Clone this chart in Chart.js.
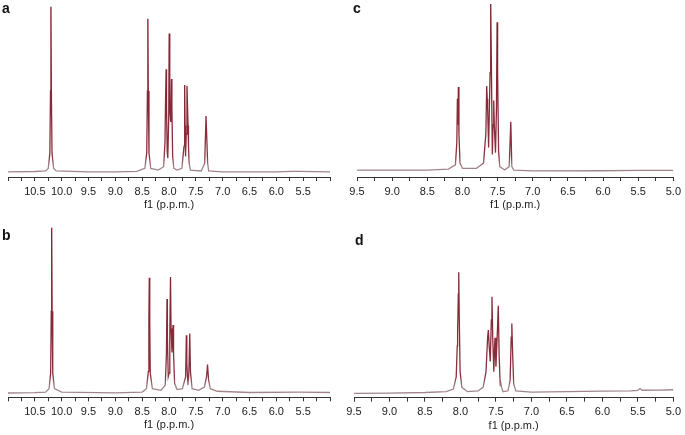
<!DOCTYPE html>
<html>
<head>
<meta charset="utf-8">
<script src="https://cdn.jsdelivr.net/npm/chart.js@4.4.1/dist/chart.umd.min.js"></script>
<style>
  body { margin: 0; background: #fff; }
  #wrap { position: relative; width: 685px; height: 435px; }
  canvas { position: absolute; }
  .lbl { position: absolute; font: bold 14px "Liberation Sans", Arial, sans-serif; line-height: 14px; color: #111; }
</style>
</head>
<body>
<div id="wrap">
  <canvas id="ca" width="340" height="215" style="left:0;top:0"></canvas>
  <canvas id="cc" width="345" height="215" style="left:340px;top:0"></canvas>
  <canvas id="cb" width="340" height="220" style="left:0;top:215px"></canvas>
  <canvas id="cd" width="345" height="220" style="left:340px;top:215px"></canvas>
  <div class="lbl" style="left:2px;top:1px">a</div>
  <div class="lbl" style="left:353px;top:1px">c</div>
  <div class="lbl" style="left:2px;top:228px">b</div>
  <div class="lbl" style="left:355px;top:233px">d</div>
</div>
<script>
// chemical shifts (ppm) and intensities
var shiftA = [11.0, 10.5, 10.3, 10.25, 10.22, 10.208, 10.2, 10.192, 10.18, 10.15, 10.1, 9.5, 9.0, 8.6, 8.45, 8.415, 8.402, 8.394, 8.386, 8.373, 8.34, 8.2, 8.1, 8.075, 8.062, 8.053, 8.046, 8.033, 8.022, 8.005, 7.996, 7.99, 7.982, 7.968, 7.953, 7.946, 7.932, 7.91, 7.85, 7.76, 7.72, 7.708, 7.7, 7.692, 7.678, 7.665, 7.645, 7.637, 7.625, 7.6, 7.4, 7.335, 7.31, 7.298, 7.28, 7.26, 7.0, 6.0, 5.7, 5.55, 5.0];
var intA   = [3, 3.2, 3.5, 5, 14, 50, 99, 50, 14, 5, 3.5, 3, 3, 3.3, 5, 14, 50, 92, 50, 14, 5, 4, 6, 20, 49, 62.6, 40, 14, 11, 35, 83.5, 60, 40, 32, 57, 40, 12, 5, 4, 5, 18, 53.5, 30, 12, 25, 53, 30, 18, 8, 4, 3.5, 8, 35.5, 35.5, 8, 3.5, 3, 3, 3.3, 3.3, 3];

var shiftB = [11.0, 10.5, 10.3, 10.235, 10.205, 10.194, 10.186, 10.178, 10.166, 10.135, 10.0, 9.0, 8.5, 8.42, 8.385, 8.375, 8.367, 8.359, 8.349, 8.31, 8.15, 8.07, 8.048, 8.037, 8.03, 8.014, 8.0, 7.985, 7.972, 7.962, 7.945, 7.925, 7.915, 7.895, 7.85, 7.75, 7.69, 7.677, 7.668, 7.647, 7.63, 7.613, 7.6, 7.57, 7.45, 7.34, 7.3, 7.282, 7.262, 7.23, 7.1, 6.5, 5.6, 5.0];
var intB   = [2.5, 2.7, 3, 5, 14, 50, 98.4, 50, 14, 5, 3, 2.6, 3, 5, 15, 45, 69.4, 45, 14, 5, 4, 7, 25, 57, 35, 12, 14, 35, 69.8, 40, 26, 41.9, 25, 8, 4.5, 5, 12, 36, 20, 7, 14, 37, 15, 5, 4, 6, 12, 19, 10, 5, 3.5, 2.8, 3, 2.8];

var shiftC = [9.5, 9.0, 8.5, 8.2, 8.1, 8.08, 8.072, 8.065, 8.058, 8.05, 8.035, 8.0, 7.8, 7.7, 7.667, 7.655, 7.648, 7.642, 7.628, 7.607, 7.598, 7.59, 7.575, 7.565, 7.555, 7.547, 7.53, 7.516, 7.507, 7.5, 7.486, 7.47, 7.4, 7.335, 7.312, 7.298, 7.27, 7.0, 6.0, 5.5, 5.0];
var intC   = [4, 4, 4, 4.5, 7, 20, 45, 30, 51.7, 25, 8, 5, 5, 8, 25, 52.3, 45, 40, 17, 60, 99.4, 70, 13, 30, 44, 30, 14, 40, 89, 60, 15, 6, 4, 6, 31.8, 6, 4, 3.5, 3.6, 3.8, 3.8];

var shiftD = [9.5, 9.0, 8.5, 8.2, 8.1, 8.06, 8.045, 8.04, 8.03, 8.024, 8.018, 8.005, 7.98, 7.9, 7.75, 7.68, 7.64, 7.617, 7.607, 7.595, 7.58, 7.565, 7.556, 7.545, 7.53, 7.52, 7.513, 7.5, 7.478, 7.467, 7.455, 7.44, 7.43, 7.42, 7.4, 7.33, 7.3, 7.285, 7.276, 7.268, 7.25, 7.22, 7.0, 6.5, 6.0, 5.6, 5.5, 5.47, 5.44, 5.2, 5.0];
var intD   = [2.5, 2.7, 3, 3.5, 5, 12, 30, 36.7, 60, 72.6, 50, 15, 6, 3.5, 4, 6, 15, 35, 39.2, 30, 21, 45, 58.5, 35, 15, 28, 34.7, 18, 40, 53.3, 25, 7, 8, 6, 3.5, 4, 10, 35, 43, 30, 8, 4, 3.2, 3.5, 3.8, 4, 4.3, 5.3, 4.3, 4.4, 4.6];

var axisColor = '#333';

function toPoints(xs, ys) {
  var pts = [];
  for (var i = 0; i < xs.length; i++) pts.push({x: xs[i], y: ys[i]});
  return pts;
}

// greyish near the baseline, dark red up the peaks
function lineGradient(context) {
  var chart = context.chart;
  var area = chart.chartArea;
  if (!area) return '#8a2232';
  var y = chart.scales.y;
  var g = chart.ctx.createLinearGradient(0, y.getPixelForValue(0), 0, y.getPixelForValue(100));
  g.addColorStop(0, 'rgba(150,120,125,0.9)');
  g.addColorStop(0.06, 'rgba(150,120,125,0.9)');
  g.addColorStop(0.12, 'rgba(125,25,40,0.9)');
  g.addColorStop(1, 'rgba(120,18,34,0.95)');
  return g;
}

function makeChart(id, xs, ys, xmin, xmax, pad, endLabels) {
  var ctx = document.getElementById(id);
  return new Chart(ctx, {
    type: 'line',
    data: {
      datasets: [{
        data: toPoints(xs, ys),
        borderColor: lineGradient,
        borderWidth: 1.3,
        pointRadius: 0,
        tension: 0,
        fill: false
      }]
    },
    options: {
      responsive: false,
      animation: false,
      devicePixelRatio: 1,
      layout: { padding: pad },
      plugins: { legend: { display: false }, tooltip: { enabled: false } },
      scales: {
        x: {
          type: 'linear',
          reverse: true,
          min: xmin,
          max: xmax,
          grid: { drawOnChartArea: false, drawTicks: true, tickLength: 4, color: axisColor },
          border: { display: true, color: axisColor, width: 1 },
          ticks: {
            stepSize: 0.25,
            autoSkip: false,
            maxRotation: 0,
            padding: 4,
            color: '#222',
            font: { family: '"Liberation Sans", Arial, sans-serif', size: 11 },
            callback: function(v) {
              var r = Math.round(v * 100);
              if (r % 50 !== 0) return '';
              if (!endLabels && (Math.abs(v - xmin) < 1e-6 || Math.abs(v - xmax) < 1e-6)) return '';
              return (r / 100).toFixed(1);
            }
          },
          title: {
            display: true,
            text: 'f1 (p.p.m.)',
            color: '#222',
            padding: { top: -4, bottom: 0 },
            font: { family: '"Liberation Sans", Arial, sans-serif', size: 11 }
          }
        },
        y: { display: false, min: 0, max: 100 }
      }
    }
  });
}

makeChart('ca', shiftA, intA, 5.0, 11.0, {left: 8, right: 10, top: 5, bottom: 3.6}, false);
makeChart('cc', shiftC, intC, 5.0, 9.5, {left: 17, right: 8, top: 3, bottom: 3.6}, true);
makeChart('cb', shiftB, intB, 5.0, 11.0, {left: 8, right: 10, top: 10, bottom: 3.3}, false);
makeChart('cd', shiftD, intD, 5.0, 9.5, {left: 14, right: 10, top: 10, bottom: 2.9}, true);
</script>
</body>
</html>
